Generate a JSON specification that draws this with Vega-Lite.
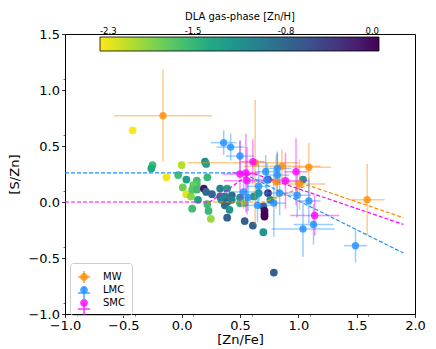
{
  "$schema": "https://vega.github.io/schema/vega-lite/v6.json",
  "width": 350,
  "height": 280,
  "autosize": {"type": "none"},
  "padding": {"left": 65, "top": 34, "right": 21, "bottom": 35},
  "config": {
    "font": "DejaVu Sans",
    "view": {"stroke": "#000", "strokeWidth": 1},
    "axis": {"grid": false, "domainColor": "#000", "tickColor": "#000", "labelColor": "#000", "titleColor": "#000", "titleFontWeight": "normal"}
  },
  "datasets": {
    "dla": [
      {"zf": -0.42, "sz": 0.64, "zh": -2.3},
      {"zf": -0.25, "sz": 0.33, "zh": -1.6},
      {"zf": -0.26, "sz": 0.30, "zh": -1.4},
      {"zf": 0.00, "sz": 0.33, "zh": -2.05},
      {"zf": -0.13, "sz": 0.22, "zh": -2.25},
      {"zf": -0.03, "sz": 0.24, "zh": -1.6},
      {"zf": 0.04, "sz": 0.20, "zh": -1.3},
      {"zf": 0.01, "sz": 0.13, "zh": -1.8},
      {"zf": 0.04, "sz": 0.07, "zh": -2.2},
      {"zf": 0.08, "sz": 0.05, "zh": -1.9},
      {"zf": 0.13, "sz": 0.19, "zh": -1.6},
      {"zf": 0.13, "sz": 0.16, "zh": -1.65},
      {"zf": 0.10, "sz": 0.15, "zh": -1.75},
      {"zf": 0.09, "sz": 0.11, "zh": -1.7},
      {"zf": 0.13, "sz": 0.11, "zh": -1.6},
      {"zf": 0.19, "sz": 0.12, "zh": -0.1},
      {"zf": 0.20, "sz": 0.36, "zh": -1.1},
      {"zf": 0.21, "sz": 0.34, "zh": -1.3},
      {"zf": 0.22, "sz": 0.22, "zh": -1.55},
      {"zf": 0.14, "sz": 0.02, "zh": -1.3},
      {"zf": 0.09, "sz": -0.06, "zh": -1.6},
      {"zf": 0.22, "sz": -0.02, "zh": -1.6},
      {"zf": 0.23, "sz": -0.08, "zh": -1.55},
      {"zf": 0.25, "sz": -0.15, "zh": -1.95},
      {"zf": 0.21, "sz": 0.09, "zh": -0.8},
      {"zf": 0.26, "sz": 0.07, "zh": -0.75},
      {"zf": 0.33, "sz": 0.12, "zh": -1.0},
      {"zf": 0.39, "sz": 0.12, "zh": -1.3},
      {"zf": 0.33, "sz": 0.05, "zh": -0.8},
      {"zf": 0.37, "sz": 0.05, "zh": -1.0},
      {"zf": 0.43, "sz": 0.06, "zh": -0.8},
      {"zf": 0.34, "sz": 0.02, "zh": -1.0},
      {"zf": 0.39, "sz": 0.00, "zh": -0.8},
      {"zf": 0.43, "sz": 0.02, "zh": -1.0},
      {"zf": 0.50, "sz": 0.04, "zh": -1.2},
      {"zf": 0.37, "sz": -0.03, "zh": -0.8},
      {"zf": 0.41, "sz": -0.07, "zh": -1.2},
      {"zf": 0.39, "sz": -0.14, "zh": -0.7},
      {"zf": 0.54, "sz": -0.17, "zh": -0.7},
      {"zf": 0.61, "sz": -0.21, "zh": -0.7},
      {"zf": 0.70, "sz": -0.27, "zh": -1.2},
      {"zf": 0.50, "sz": -0.01, "zh": -1.5},
      {"zf": 0.54, "sz": -0.01, "zh": -1.9},
      {"zf": 0.62, "sz": 0.05, "zh": -1.2},
      {"zf": 0.66, "sz": 0.08, "zh": -1.25},
      {"zf": 0.74, "sz": 0.20, "zh": -0.6},
      {"zf": 0.70, "sz": -0.04, "zh": -0.6},
      {"zf": 0.71, "sz": -0.08, "zh": -0.05},
      {"zf": 0.71, "sz": -0.11, "zh": 0.0},
      {"zf": 0.71, "sz": -0.13, "zh": 0.0},
      {"zf": 0.74, "sz": 0.08, "zh": -0.3},
      {"zf": 0.76, "sz": 0.02, "zh": -1.2},
      {"zf": 0.79, "sz": -0.63, "zh": -0.7},
      {"zf": 1.04, "sz": 0.20, "zh": -1.2}
    ],
    "grp": [
      {"g": "MW", "x": -0.16, "y": 0.77, "xlo": -0.58, "xhi": 0.26, "ylo": 0.36, "yhi": 1.18},
      {"g": "MW", "x": 0.63, "y": 0.35, "xlo": 0.05, "xhi": 1.0, "ylo": -0.2, "yhi": 0.91},
      {"g": "MW", "x": 0.86, "y": 0.32, "xlo": 0.53, "xhi": 1.19, "ylo": 0.17, "yhi": 0.47},
      {"g": "MW", "x": 1.09, "y": 0.31, "xlo": 0.95, "xhi": 1.28, "ylo": 0.02, "yhi": 0.53},
      {"g": "MW", "x": 0.81, "y": 0.18, "xlo": 0.62, "xhi": 1.0, "ylo": -0.06, "yhi": 0.42},
      {"g": "MW", "x": 1.01, "y": 0.16, "xlo": 0.8, "xhi": 1.23, "ylo": -0.07, "yhi": 0.38},
      {"g": "MW", "x": 1.59, "y": 0.02, "xlo": 1.44, "xhi": 1.74, "ylo": -0.3, "yhi": 0.34},
      {"g": "LMC", "x": 0.36, "y": 0.53, "xlo": 0.25, "xhi": 0.47, "ylo": 0.42, "yhi": 0.64},
      {"g": "LMC", "x": 0.42, "y": 0.49, "xlo": 0.30, "xhi": 0.54, "ylo": 0.37, "yhi": 0.61},
      {"g": "LMC", "x": 0.50, "y": 0.41, "xlo": 0.38, "xhi": 0.62, "ylo": 0.27, "yhi": 0.55},
      {"g": "LMC", "x": 0.53, "y": 0.09, "xlo": 0.43, "xhi": 0.63, "ylo": -0.06, "yhi": 0.24},
      {"g": "LMC", "x": 0.66, "y": 0.14, "xlo": 0.56, "xhi": 0.76, "ylo": -0.06, "yhi": 0.34},
      {"g": "LMC", "x": 0.65, "y": -0.03, "xlo": 0.53, "xhi": 0.77, "ylo": -0.18, "yhi": 0.12},
      {"g": "LMC", "x": 0.72, "y": 0.27, "xlo": 0.62, "xhi": 0.82, "ylo": 0.12, "yhi": 0.42},
      {"g": "LMC", "x": 0.82, "y": 0.30, "xlo": 0.70, "xhi": 0.94, "ylo": 0.15, "yhi": 0.45},
      {"g": "LMC", "x": 0.82, "y": 0.24, "xlo": 0.72, "xhi": 0.92, "ylo": 0.04, "yhi": 0.44},
      {"g": "LMC", "x": 0.73, "y": 0.20, "xlo": 0.58, "xhi": 0.88, "ylo": 0.05, "yhi": 0.35},
      {"g": "LMC", "x": 0.79, "y": -0.01, "xlo": 0.69, "xhi": 0.89, "ylo": -0.31, "yhi": 0.29},
      {"g": "LMC", "x": 0.84, "y": 0.08, "xlo": 0.69, "xhi": 0.99, "ylo": -0.12, "yhi": 0.28},
      {"g": "LMC", "x": 0.99, "y": 0.06, "xlo": 0.87, "xhi": 1.11, "ylo": -0.14, "yhi": 0.26},
      {"g": "LMC", "x": 1.09, "y": 0.01, "xlo": 0.99, "xhi": 1.19, "ylo": -0.19, "yhi": 0.21},
      {"g": "LMC", "x": 1.04, "y": -0.24, "xlo": 0.77, "xhi": 1.31, "ylo": -0.49, "yhi": 0.01},
      {"g": "LMC", "x": 1.13, "y": -0.20, "xlo": 0.96, "xhi": 1.30, "ylo": -0.38, "yhi": -0.02},
      {"g": "LMC", "x": 1.49, "y": -0.39, "xlo": 1.39, "xhi": 1.59, "ylo": -0.54, "yhi": -0.24},
      {"g": "LMC", "x": 0.57, "y": 0.04, "xlo": 0.47, "xhi": 0.67, "ylo": -0.08, "yhi": 0.16},
      {"g": "SMC", "x": 0.50, "y": 0.25, "xlo": 0.35, "xhi": 0.65, "ylo": -0.05, "yhi": 0.55},
      {"g": "SMC", "x": 0.55, "y": 0.26, "xlo": 0.43, "xhi": 0.67, "ylo": -0.09, "yhi": 0.61},
      {"g": "SMC", "x": 0.56, "y": 0.19, "xlo": 0.36, "xhi": 0.76, "ylo": -0.11, "yhi": 0.49},
      {"g": "SMC", "x": 0.61, "y": 0.36, "xlo": 0.51, "xhi": 0.71, "ylo": 0.16, "yhi": 0.56},
      {"g": "SMC", "x": 0.89, "y": 0.19, "xlo": 0.69, "xhi": 1.09, "ylo": -0.06, "yhi": 0.44},
      {"g": "SMC", "x": 0.98, "y": 0.27, "xlo": 0.88, "xhi": 1.08, "ylo": -0.03, "yhi": 0.57},
      {"g": "SMC", "x": 1.14, "y": -0.12, "xlo": 0.93, "xhi": 1.35, "ylo": -0.30, "yhi": 0.06}
    ],
    "fit": [
      {"g": "MW", "x": 0.22, "y": 0.0, "o": 1},
      {"g": "MW", "x": 0.71, "y": 0.0, "o": 2},
      {"g": "MW", "x": 1.08, "y": 0.15, "o": 3},
      {"g": "MW", "x": 1.9, "y": -0.14, "o": 4},
      {"g": "LMC", "x": -1.0, "y": 0.26, "o": 1},
      {"g": "LMC", "x": 0.52, "y": 0.26, "o": 2},
      {"g": "LMC", "x": 1.9, "y": -0.455, "o": 3},
      {"g": "SMC", "x": -1.0, "y": 0.0, "o": 1},
      {"g": "SMC", "x": 0.24, "y": 0.0, "o": 2},
      {"g": "SMC", "x": 0.6, "y": 0.26, "o": 3},
      {"g": "SMC", "x": 1.9, "y": -0.2, "o": 4}
    ]
  },
  "resolve": {"axis": {"x": "independent", "y": "independent"}},
  "layer": [
    {
      "data": {"name": "dla"},
      "mark": {"type": "point", "filled": true, "shape": "circle", "size": 60, "opacity": 1},
      "encoding": {
        "x": {"field": "zf", "type": "quantitative", "scale": {"domain": [-1, 2], "nice": false, "zero": false},
          "axis": {"orient": "bottom", "title": "[Zn/Fe]", "values": [-1, -0.5, 0, 0.5, 1, 1.5, 2], "format": ".1f", "labelFontSize": 13, "titleFontSize": 13, "tickSize": 3.5, "tickWidth": 0.8, "domainWidth": 0.8, "labelPadding": 2, "titlePadding": 1, "labelFlush": false, "labelOverlap": false}},
        "y": {"field": "sz", "type": "quantitative", "scale": {"domain": [-1, 1.5], "nice": false, "zero": false},
          "axis": {"orient": "left", "title": "[S/Zn]", "values": [-1, -0.5, 0, 0.5, 1, 1.5], "format": ".1f", "labelFontSize": 13, "titleFontSize": 13, "tickSize": 3.5, "tickWidth": 0.8, "domainWidth": 0.8, "labelPadding": 2, "titlePadding": 6, "labelFlush": false, "labelOverlap": false}},
        "fill": {"field": "zh", "type": "quantitative",
          "scale": {"domain": [-2.3, 0], "scheme": "viridis", "reverse": true},
          "legend": {"orient": "none", "legendX": 35, "legendY": -22, "direction": "horizontal", "gradientLength": 279, "gradientThickness": 14,
            "title": "DLA gas-phase [Zn/H]", "titleFontSize": 10, "titleFontWeight": "normal", "titleAnchor": "middle", "titleColor": "#000", "titlePadding": 15,
            "values": [-2.3, -1.5333, -0.7667, 0], "labelExpr": "replace(format(datum.value, '.1f'), '\u2212', '-')",
            "labelFontSize": 8.5, "labelColor": "#000", "labelOverlap": false, "labelOffset": -24, "labelAlign": "center",
            "gradientStrokeColor": "#000", "gradientStrokeWidth": 0.8, "padding": 0}
        }
      }
    },
    {
      "layer": [
        {
          "data": {"name": "grp"},
          "mark": {"type": "rule", "strokeWidth": 1.5, "opacity": 0.45},
          "encoding": {
            "x": {"field": "xlo", "type": "quantitative", "scale": {"domain": [-1, 2], "nice": false, "zero": false}},
            "x2": {"field": "xhi"},
            "y": {"field": "y", "type": "quantitative", "scale": {"domain": [-1, 1.5], "nice": false, "zero": false}},
            "stroke": {"field": "g", "type": "nominal", "title": null, "scale": {"domain": ["MW", "LMC", "SMC", "none"], "range": ["#ff8c00", "#1e90ff", "#ff00ff", "transparent"]},
              "legend": {"orient": "none", "legendX": 5, "legendY": 229, "title": null, "values": ["MW", "LMC", "SMC"],
                "symbolType": "M-1,0L1,0M0,-1L0,1", "symbolSize": 144, "symbolStrokeWidth": 1.5, "symbolOpacity": 0.8,
                "labelFontSize": 10, "labelOpacity": 0, "labelOffset": 12, "padding": 7, "rowPadding": -8}}
          }
        },
        {
          "data": {"name": "grp"},
          "mark": {"type": "rule", "strokeWidth": 1.5, "opacity": 0.45},
          "encoding": {
            "x": {"field": "x", "type": "quantitative", "scale": {"domain": [-1, 2], "nice": false, "zero": false}},
            "y": {"field": "ylo", "type": "quantitative", "scale": {"domain": [-1, 1.5], "nice": false, "zero": false}},
            "y2": {"field": "yhi"},
            "stroke": {"field": "g", "type": "nominal", "title": null, "scale": {"domain": ["MW", "LMC", "SMC", "none"], "range": ["#ff8c00", "#1e90ff", "#ff00ff", "transparent"]},
              "legend": {"orient": "none", "legendX": 5, "legendY": 229, "title": null, "values": ["MW", "LMC", "SMC"],
                "symbolType": "M-1,0L1,0M0,-1L0,1", "symbolSize": 144, "symbolStrokeWidth": 1.5, "symbolOpacity": 0.8,
                "labelFontSize": 10, "labelOpacity": 0, "labelOffset": 12, "padding": 7, "rowPadding": -8}}
          }
        },
        {
          "data": {"name": "fit"},
          "mark": {"type": "line", "strokeDash": [4, 2], "strokeWidth": 1.2},
          "encoding": {
            "x": {"field": "x", "type": "quantitative", "scale": {"domain": [-1, 2], "nice": false, "zero": false},
              "axis": {"orient": "bottom", "title": null, "labels": false, "domain": false, "tickSize": 2, "tickWidth": 0.6,
                "values": [-0.9, -0.8, -0.7, -0.6, -0.4, -0.3, -0.2, -0.1, 0.1, 0.2, 0.3, 0.4, 0.6, 0.7, 0.8, 0.9, 1.1, 1.2, 1.3, 1.4, 1.6, 1.7, 1.8, 1.9]}},
            "y": {"field": "y", "type": "quantitative", "scale": {"domain": [-1, 1.5], "nice": false, "zero": false},
              "axis": {"orient": "left", "title": null, "labels": false, "domain": false, "tickSize": 2, "tickWidth": 0.6,
                "values": [-0.9, -0.8, -0.7, -0.6, -0.4, -0.3, -0.2, -0.1, 0.1, 0.2, 0.3, 0.4, 0.6, 0.7, 0.8, 0.9, 1.1, 1.2, 1.3, 1.4]}},
            "stroke": {"field": "g", "type": "nominal", "title": null, "scale": {"domain": ["MW", "LMC", "SMC", "none"], "range": ["#ff8c00", "#1e90ff", "#ff00ff", "transparent"]},
              "legend": {"orient": "none", "legendX": 5, "legendY": 229, "title": null, "values": ["MW", "LMC", "SMC"],
                "symbolType": "M-1,0L1,0M0,-1L0,1", "symbolSize": 144, "symbolStrokeWidth": 1.5, "symbolOpacity": 0.8,
                "labelFontSize": 10, "labelOpacity": 0, "labelOffset": 12, "padding": 7, "rowPadding": -8}},
            "order": {"field": "o", "type": "quantitative"}
          }
        },
        {
          "data": {"name": "grp"},
          "mark": {"type": "point", "filled": true, "size": 55, "opacity": 0.8},
          "encoding": {
            "x": {"field": "x", "type": "quantitative", "scale": {"domain": [-1, 2], "nice": false, "zero": false}},
            "y": {"field": "y", "type": "quantitative", "scale": {"domain": [-1, 1.5], "nice": false, "zero": false}},
            "color": {"field": "g", "type": "nominal", "title": null, "scale": {"domain": ["MW", "LMC", "SMC"], "range": ["#ff8c00", "#1e90ff", "#ff00ff"]},
              "legend": {"orient": "none", "legendX": 5, "legendY": 229, "title": null,
                "symbolType": "M0.65,0A0.65,0.65,0,1,1,-0.65,0A0.65,0.65,0,1,1,0.65,0Z",
                "symbolSize": 144, "symbolOpacity": 0.8, "labelFontSize": 10, "labelColor": "#000", "labelOffset": 12,
                "padding": 7, "rowPadding": 1, "strokeColor": "#cccccc", "cornerRadius": 3}
            }
          }
        }
      ]
    }
  ]
}
